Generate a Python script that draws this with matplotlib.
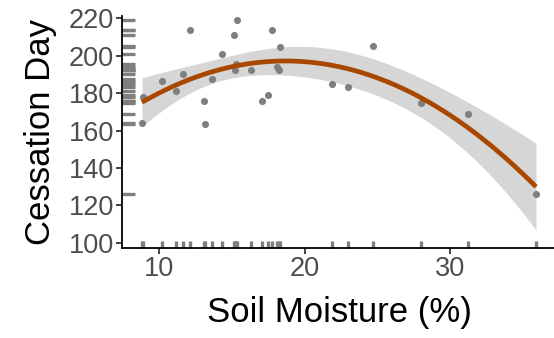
import numpy as np
import matplotlib
matplotlib.use("Agg")
import matplotlib.pyplot as plt
import matplotlib.transforms as mtransforms

plt.rcParams['font.family'] = ['Liberation Sans', 'DejaVu Sans']

# Data
soil_moisture = [8.93, 8.86, 10.25, 11.21, 11.64, 12.12, 13.08, 13.20, 13.66, 14.32,
                 15.14, 15.34, 15.27, 15.23, 16.35, 17.10, 17.53, 17.79, 18.29, 18.11,
                 18.22, 24.70, 21.88, 23.01, 27.99, 31.19, 35.87]
cessation_day = [177.9, 164.2, 186.6, 181.1, 190.0, 213.6, 175.7, 163.3, 187.5, 200.8,
                 211.1, 219.1, 195.7, 192.6, 192.6, 176.0, 178.8, 214.0, 204.7, 193.9,
                 192.6, 205.4, 185.0, 183.0, 174.7, 168.8, 126.1]
x_ticks = [10, 20, 30]
y_ticks = [100, 120, 140, 160, 180, 200, 220]

x = np.array(soil_moisture)
y = np.array(cessation_day)

# quadratic lm fit with 95% confidence band (like geom_smooth(method='lm', formula=y~poly(x,2)))
X = np.column_stack([np.ones_like(x), x, x**2])
beta, res, rank, sv = np.linalg.lstsq(X, y, rcond=None)
n, p = X.shape
resid = y - X @ beta
sigma2 = resid @ resid / (n - p)
XtX_inv = np.linalg.inv(X.T @ X)
t_crit = 2.0639  # t(0.975, df=24)
xs = np.linspace(x.min(), x.max(), 200)
Xs = np.column_stack([np.ones_like(xs), xs, xs**2])
ys = Xs @ beta
se = np.sqrt(np.einsum('ij,jk,ik->i', Xs, XtX_inv, Xs) * sigma2)

W, H = 554, 338
fig = plt.figure(figsize=(W/100, H/100), dpi=100)
left_px, right_px, top_px, bottom_px = 122.3, 555.7, 15.5, 247.7
ax = fig.add_axes([left_px/W, 1 - bottom_px/H, (right_px-left_px)/W, (bottom_px-top_px)/H])

ax.fill_between(xs, ys - t_crit*se, ys + t_crit*se, color='#D6D6D6', lw=0, zorder=1)
ax.scatter(x, y, s=26, color='#7F7F7F', lw=0, zorder=3)
ax.plot(xs, ys, color='#A84700', lw=3.4, zorder=4, solid_capstyle='butt')

# rugs
tb = mtransforms.blended_transform_factory(ax.transData, ax.transAxes)
tl = mtransforms.blended_transform_factory(ax.transAxes, ax.transData)
for xv in x:
    ax.plot([xv, xv], [0, 0.027], transform=tb, color='#7F7F7F', lw=2.4, solid_capstyle='butt', zorder=2, clip_on=False)
for yv in y:
    ax.plot([0, 0.03], [yv, yv], transform=tl, color='#7F7F7F', lw=2.4, solid_capstyle='butt', zorder=2, clip_on=False)

ax.set_xlim(7.51, 37.22)
ax.set_ylim(97.33, 221.5)
ax.set_xticks(x_ticks)
ax.set_yticks(y_ticks)
for s in ['top', 'right']:
    ax.spines[s].set_visible(False)
for s in ['left', 'bottom']:
    ax.spines[s].set_linewidth(1.3)
    ax.spines[s].set_color('black')
ax.tick_params(axis='both', length=4, width=1.3, color='#333333', labelcolor='#4D4D4D', labelsize=19.5, pad=2)
ax.set_xlabel('Soil Moisture (%)', fontsize=25, color='black', labelpad=10)
ax.set_ylabel('Cessation Day', fontsize=25, color='black', labelpad=8)

fig.savefig('out.png', dpi=100)
